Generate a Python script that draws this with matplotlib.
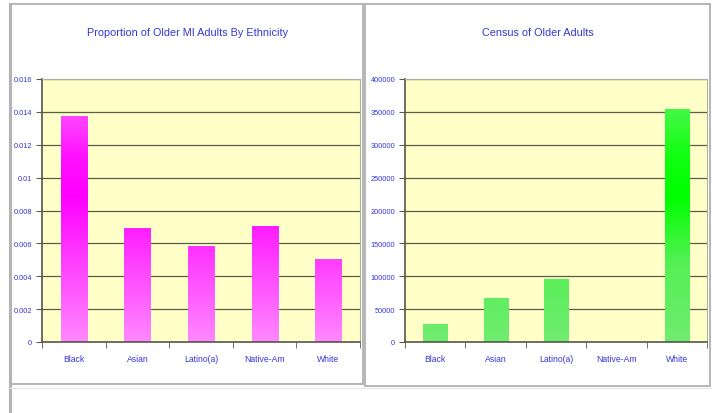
import numpy as np
import matplotlib
matplotlib.use("Agg")
import matplotlib.pyplot as plt
from matplotlib import font_manager
from matplotlib.colors import LinearSegmentedColormap
from matplotlib.patches import Rectangle
from matplotlib.lines import Line2D

# ---- data ----
categories = ["Black", "Asian", "Latino(a)", "Native-Am", "White"]
proportion = [0.01375, 0.00692, 0.00582, 0.00704, 0.00503]
census = [27500, 66500, 95800, 0, 355000]
prop_ticks = [0, 0.002, 0.004, 0.006, 0.008, 0.01, 0.012, 0.014, 0.016]
prop_tick_labels = ["0", "0.002", "0.004", "0.006", "0.008", "0.01", "0.012", "0.014", "0.016"]
census_ticks = [0, 50000, 100000, 150000, 200000, 250000, 300000, 350000, 400000]
census_tick_labels = [str(t) for t in census_ticks]
titles = ["Proportion of Older MI Adults By Ethnicity", "Census of Older Adults"]

# ---- fonts ----
available = {f.name for f in font_manager.fontManager.ttflist}
narrow = next((f for f in ["Liberation Sans Narrow", "Arial Narrow", "Liberation Sans", "DejaVu Sans"]
               if f in available), "DejaVu Sans")
plt.rcParams["font.family"] = [narrow, "DejaVu Sans"]

W, H = 712, 414
fig = plt.figure(figsize=(W / 100, H / 100), dpi=100)
fig.patch.set_facecolor("white")

def px_rect(x0, y0, x1, y1):
    return [x0 / W, 1 - y1 / H, (x1 - x0) / W, (y1 - y0) / H]

text_blue = "#3535d6"
grid_col = "#5c5c48"
plot_bg = "#ffffc8"

# panel frames
frame = fig.add_axes([0, 0, 1, 1], zorder=-5)
frame.set_xlim(0, W)
frame.set_ylim(H, 0)
frame.axis("off")
frame.add_patch(Rectangle((10, 5), 353, 380, fill=False, ec="#b0b0b0", lw=1.3))
frame.add_patch(Rectangle((365, 5), 345, 382, fill=False, ec="#b0b0b0", lw=1.3))
frame.add_line(Line2D([10, 10], [5, 414], color="#b4b4b4", lw=2.2))
frame.add_line(Line2D([10, 712], [389, 389], color="#e6e6e6", lw=1))

mag_cmap = LinearSegmentedColormap.from_list(
    "mag", [(0.0, "#ff88ff"), (0.35, "#ff33ff"), (0.55, "#ff00ff"), (0.7, "#ff10ff"), (1.0, "#ff77ff")])
grn_cmap = LinearSegmentedColormap.from_list(
    "grn", [(0.0, "#70ec70"), (0.3, "#55f055"), (0.55, "#00ff00"), (0.7, "#10ff10"), (1.0, "#66f466")])

def draw_panel(rect, values, ticks, tick_labels, ymax, cmap, title, title_xy, width):
    ax = fig.add_axes(px_rect(*rect))
    ax.set_facecolor(plot_bg)
    n = len(values)
    ax.set_xlim(0, n)
    ax.set_ylim(0, ymax)
    for t in ticks[1:]:
        ax.axhline(t, color=grid_col, lw=0.9, zorder=1)
    x = np.arange(n) + 0.5
    bars = ax.bar(x, values, width=width, color="none", edgecolor="none", zorder=2)
    grad = np.linspace(0, 1, 256).reshape(-1, 1)
    for b in bars:
        im = ax.imshow(grad, extent=[0, n, 0, ymax], origin="lower", cmap=cmap,
                       aspect="auto", zorder=2, interpolation="bilinear")
        im.set_clip_path(b)
    ax.set_xlim(0, n)
    ax.set_ylim(0, ymax)
    ax.set_yticks(ticks)
    ax.set_yticklabels(tick_labels)
    ax.set_xticks(x)
    ax.set_xticklabels(categories)
    ax.set_xticks(np.arange(n + 1), minor=True)
    ax.tick_params(axis="x", which="major", length=0, pad=9, labelsize=6.2, labelcolor=text_blue)
    ax.tick_params(axis="x", which="minor", length=4, color=grid_col, direction="out")
    ax.tick_params(axis="y", length=4, color=grid_col, direction="out", pad=3,
                   labelsize=5.3, labelcolor=text_blue)
    for s in ["left", "bottom"]:
        ax.spines[s].set_color("#55554a")
        ax.spines[s].set_linewidth(1.2)
    for s in ["top", "right"]:
        ax.spines[s].set_color("#b0b0a0")
        ax.spines[s].set_linewidth(0.8)
    fig.text(title_xy[0] / W, 1 - title_xy[1] / H, title, ha="center", va="center",
             color=text_blue, fontsize=7.8)
    return ax

draw_panel((42, 80, 360, 343), proportion, prop_ticks, prop_tick_labels, 0.016,
           mag_cmap, titles[0], (188, 33), 0.41)
draw_panel((405, 80, 707, 343), census, census_ticks, census_tick_labels, 400000,
           grn_cmap, titles[1], (538, 33), 0.40)

fig.savefig("out.png", dpi=100, facecolor="white")
